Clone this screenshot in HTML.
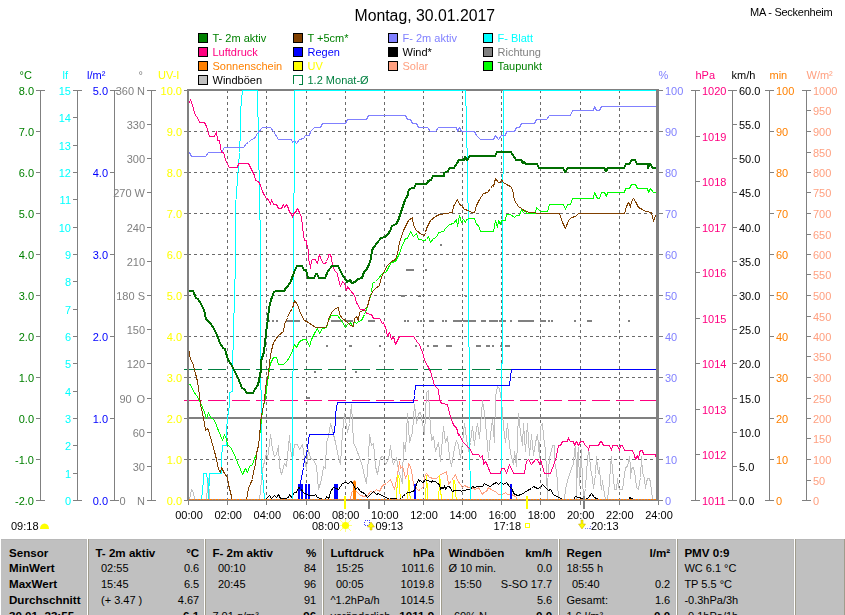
<!DOCTYPE html>
<html><head><meta charset="utf-8"><title>Montag, 30.01.2017</title>
<style>
html,body{margin:0;padding:0;background:#fff;}
body{width:845px;height:615px;overflow:hidden;position:relative;}
svg{position:absolute;left:0;top:0;display:block;}
svg.c{will-change:transform;}
text{font-family:"Liberation Sans",Arial,sans-serif;font-size:11px;}
</style></head>
<body>
<svg class="c" width="845" height="615" viewBox="0 0 845 615">
<g shape-rendering="crispEdges">
<line x1="227.5" y1="90" x2="227.5" y2="500" stroke="#6a6a6a" stroke-width="1" stroke-dasharray="3,3"/>
<line x1="266.5" y1="90" x2="266.5" y2="500" stroke="#6a6a6a" stroke-width="1" stroke-dasharray="3,3"/>
<line x1="306.5" y1="90" x2="306.5" y2="500" stroke="#6a6a6a" stroke-width="1" stroke-dasharray="3,3"/>
<line x1="345.5" y1="90" x2="345.5" y2="500" stroke="#6a6a6a" stroke-width="1" stroke-dasharray="3,3"/>
<line x1="384.5" y1="90" x2="384.5" y2="500" stroke="#6a6a6a" stroke-width="1" stroke-dasharray="3,3"/>
<line x1="423.5" y1="90" x2="423.5" y2="500" stroke="#6a6a6a" stroke-width="1" stroke-dasharray="3,3"/>
<line x1="462.5" y1="90" x2="462.5" y2="500" stroke="#6a6a6a" stroke-width="1" stroke-dasharray="3,3"/>
<line x1="501.5" y1="90" x2="501.5" y2="500" stroke="#6a6a6a" stroke-width="1" stroke-dasharray="3,3"/>
<line x1="540.5" y1="90" x2="540.5" y2="500" stroke="#6a6a6a" stroke-width="1" stroke-dasharray="3,3"/>
<line x1="580.5" y1="90" x2="580.5" y2="500" stroke="#6a6a6a" stroke-width="1" stroke-dasharray="3,3"/>
<line x1="619.5" y1="90" x2="619.5" y2="500" stroke="#6a6a6a" stroke-width="1" stroke-dasharray="3,3"/>
<line x1="188" y1="131.5" x2="656" y2="131.5" stroke="#6a6a6a" stroke-width="1" stroke-dasharray="3,3"/>
<line x1="188" y1="172.5" x2="656" y2="172.5" stroke="#6a6a6a" stroke-width="1" stroke-dasharray="3,3"/>
<line x1="188" y1="213.5" x2="656" y2="213.5" stroke="#6a6a6a" stroke-width="1" stroke-dasharray="3,3"/>
<line x1="188" y1="254.5" x2="656" y2="254.5" stroke="#6a6a6a" stroke-width="1" stroke-dasharray="3,3"/>
<line x1="188" y1="295.5" x2="656" y2="295.5" stroke="#6a6a6a" stroke-width="1" stroke-dasharray="3,3"/>
<line x1="188" y1="336.5" x2="656" y2="336.5" stroke="#6a6a6a" stroke-width="1" stroke-dasharray="3,3"/>
<line x1="188" y1="377.5" x2="656" y2="377.5" stroke="#6a6a6a" stroke-width="1" stroke-dasharray="3,3"/>
<line x1="188" y1="459.5" x2="656" y2="459.5" stroke="#6a6a6a" stroke-width="1" stroke-dasharray="3,3"/>
<rect x="189" y="417" width="467" height="2" fill="#808080"/>
</g>
<g shape-rendering="crispEdges">
<line x1="184" y1="369.5" x2="656" y2="369.5" stroke="#008040" stroke-width="1" stroke-dasharray="18,6"/>
<line x1="184" y1="400.5" x2="656" y2="400.5" stroke="#ff0080" stroke-width="1" stroke-dasharray="18,6"/>
</g>
<g shape-rendering="crispEdges">
<rect x="267" y="320" width="3" height="2" fill="#808080"/>
<rect x="272" y="320" width="2" height="2" fill="#808080"/>
<rect x="276" y="320" width="2" height="2" fill="#808080"/>
<rect x="286" y="320" width="14" height="2" fill="#808080"/>
<rect x="331" y="320" width="12" height="2" fill="#808080"/>
<rect x="346" y="320" width="7" height="2" fill="#808080"/>
<rect x="368" y="320" width="7" height="2" fill="#808080"/>
<rect x="404" y="320" width="2" height="2" fill="#808080"/>
<rect x="407" y="320" width="2" height="2" fill="#808080"/>
<rect x="417" y="320" width="2" height="2" fill="#808080"/>
<rect x="420" y="320" width="2" height="2" fill="#808080"/>
<rect x="423" y="320" width="2" height="2" fill="#808080"/>
<rect x="429" y="320" width="5" height="2" fill="#808080"/>
<rect x="442" y="320" width="2" height="2" fill="#808080"/>
<rect x="445" y="320" width="2" height="2" fill="#808080"/>
<rect x="453" y="320" width="9" height="2" fill="#808080"/>
<rect x="463" y="320" width="13" height="2" fill="#808080"/>
<rect x="481" y="320" width="5" height="2" fill="#808080"/>
<rect x="489" y="320" width="9" height="2" fill="#808080"/>
<rect x="499" y="320" width="7" height="2" fill="#808080"/>
<rect x="510" y="320" width="2" height="2" fill="#808080"/>
<rect x="518" y="320" width="16" height="2" fill="#808080"/>
<rect x="540" y="320" width="6" height="2" fill="#808080"/>
<rect x="548" y="320" width="2" height="2" fill="#808080"/>
<rect x="551" y="320" width="2" height="2" fill="#808080"/>
<rect x="574" y="320" width="2" height="2" fill="#808080"/>
<rect x="587" y="320" width="5" height="2" fill="#808080"/>
<rect x="628" y="320" width="2" height="2" fill="#808080"/>
<rect x="338" y="295" width="3" height="2" fill="#808080"/>
<rect x="401" y="295" width="4" height="2" fill="#808080"/>
<rect x="418" y="295" width="3" height="2" fill="#808080"/>
<rect x="465" y="295" width="2" height="2" fill="#808080"/>
<rect x="406" y="269" width="8" height="2" fill="#808080"/>
<rect x="425" y="269" width="2" height="2" fill="#808080"/>
<rect x="326" y="345" width="2" height="2" fill="#808080"/>
<rect x="349" y="345" width="3" height="2" fill="#808080"/>
<rect x="379" y="345" width="2" height="2" fill="#808080"/>
<rect x="415" y="345" width="2" height="2" fill="#808080"/>
<rect x="427" y="345" width="2" height="2" fill="#808080"/>
<rect x="433" y="345" width="5" height="2" fill="#808080"/>
<rect x="446" y="345" width="6" height="2" fill="#808080"/>
<rect x="476" y="345" width="5" height="2" fill="#808080"/>
<rect x="486" y="345" width="4" height="2" fill="#808080"/>
<rect x="492" y="345" width="2" height="2" fill="#808080"/>
<rect x="500" y="345" width="2" height="2" fill="#808080"/>
<rect x="505" y="345" width="5" height="2" fill="#808080"/>
<rect x="329" y="218" width="2" height="2" fill="#808080"/>
<rect x="440" y="244" width="2" height="2" fill="#808080"/>
<rect x="314" y="371" width="2" height="2" fill="#808080"/>
<rect x="355" y="371" width="2" height="2" fill="#808080"/>
<rect x="307" y="397" width="3" height="2" fill="#808080"/>
</g>
<polyline points="189.5,499.5 190.5,494.5 191.5,489.5 193.5,492.5 194.5,499.5 206.5,499.5 207.5,486.5 208.5,478.5 209.5,499.5 259.5,499.5 260.5,490.5 262.5,469.5 264.5,461.5 266.5,452.5 267.5,458.5 269.5,443.5 270.5,434.5 272.5,449.5 274.5,456.5 276.5,454.5 278.5,445.5 279.5,466.5 281.5,474.5 284.5,463.5 286.5,466.5 289.5,435.5 290.5,449.5 292.5,459.5 294.5,444.5 297.5,444.5 299.5,449.5 302.5,444.5 304.5,458.5 306.5,469.5 308.5,449.5 310.5,458.5 313.5,459.5 316.5,466.5 318.5,489.5 321.5,479.5 323.5,466.5 325.5,468.5 326.5,442.5 328.5,436.5 330.5,423.5 332.5,430.5 335.5,442.5 338.5,457.5 340.5,464.5 342.5,432.5 344.5,413.5 345.5,419.5 347.5,432.5 349.5,423.5 351.5,404.5 353.5,442.5 356.5,449.5 359.5,457.5 362.5,466.5 364.5,476.5 366.5,483.5 368.5,457.5 369.5,434.5 371.5,445.5 373.5,443.5 375.5,466.5 377.5,474.5 380.5,457.5 382.5,456.5 383.5,457.5 385.5,464.5 388.5,459.5 390.5,445.5 392.5,461.5 393.5,464.5 396.5,457.5 398.5,470.5 400.5,476.5 402.5,483.5 403.5,442.5 405.5,451.5 407.5,413.5 409.5,442.5 410.5,438.5 412.5,432.5 414.5,404.5 416.5,423.5 418.5,413.5 420.5,412.5 422.5,423.5 424.5,434.5 426.5,392.5 428.5,390.5 429.5,413.5 431.5,440.5 433.5,436.5 435.5,451.5 438.5,442.5 440.5,461.5 443.5,426.5 445.5,442.5 447.5,436.5 449.5,457.5 451.5,466.5 454.5,447.5 456.5,440.5 458.5,445.5 460.5,457.5 462.5,442.5 464.5,423.5 466.5,438.5 468.5,451.5 470.5,442.5 472.5,426.5 474.5,445.5 475.5,434.5 477.5,423.5 479.5,438.5 482.5,400.5 484.5,413.5 486.5,434.5 488.5,457.5 490.5,434.5 492.5,419.5 494.5,442.5 495.5,396.5 497.5,386.5 499.5,388.5 501.5,400.5 503.5,426.5 505.5,442.5 507.5,423.5 509.5,445.5 511.5,457.5 513.5,464.5 514.5,451.5 516.5,466.5 518.5,413.5 520.5,432.5 522.5,445.5 523.5,423.5 525.5,451.5 527.5,423.5 529.5,455.5 531.5,434.5 533.5,455.5 535.5,442.5 537.5,434.5 539.5,457.5 540.5,426.5 542.5,423.5 543.5,436.5 545.5,450.5 546.5,471.5 547.5,499.5 547.5,484.5 549.5,457.5 551.5,450.5 552.5,445.5 554.5,445.5 554.5,461.5 556.5,471.5 557.5,482.5 558.5,499.5 564.5,499.5 565.5,488.5 568.5,477.5 571.5,468.5 573.5,463.5 574.5,450.5 575.5,446.5 576.5,471.5 576.5,499.5 577.5,457.5 578.5,447.5 579.5,485.5 581.5,449.5 581.5,457.5 582.5,478.5 583.5,499.5 585.5,488.5 586.5,471.5 588.5,449.5 589.5,454.5 590.5,468.5 592.5,478.5 593.5,488.5 595.5,474.5 596.5,456.5 597.5,466.5 598.5,473.5 599.5,467.5 600.5,482.5 601.5,489.5 602.5,480.5 603.5,488.5 605.5,499.5 607.5,499.5 609.5,482.5 610.5,465.5 611.5,456.5 612.5,470.5 613.5,477.5 614.5,489.5 616.5,489.5 617.5,478.5 618.5,486.5 619.5,489.5 622.5,489.5 624.5,474.5 625.5,467.5 627.5,466.5 629.5,456.5 630.5,466.5 630.5,478.5 631.5,468.5 633.5,467.5 635.5,477.5 636.5,487.5 638.5,489.5 640.5,477.5 641.5,456.5 642.5,472.5 644.5,478.5 645.5,488.5 646.5,482.5 647.5,478.5 649.5,478.5 650.5,482.5 652.5,499.5" fill="none" stroke="#c0c0c0" stroke-width="1" stroke-linejoin="round" shape-rendering="crispEdges"/>
<polyline points="350.5,499.5 351.5,492.5 354.5,490.5 357.5,492.5 360.5,495.5 364.5,496.5 367.5,495.5 370.5,491.5 373.5,492.5 376.5,489.5 379.5,491.5 382.5,485.5 386.5,483.5 390.5,479.5 394.5,489.5 396.5,479.5 397.5,474.5 399.5,461.5 400.5,468.5 402.5,466.5 403.5,469.5 405.5,478.5 407.5,473.5 408.5,463.5 410.5,466.5 412.5,476.5 413.5,485.5 414.5,484.5 416.5,488.5 418.5,490.5 420.5,489.5 423.5,486.5 424.5,476.5 426.5,473.5 429.5,477.5 433.5,478.5 436.5,478.5 438.5,476.5 440.5,474.5 443.5,473.5 446.5,471.5 448.5,484.5 451.5,480.5 455.5,474.5 457.5,480.5 460.5,484.5 462.5,487.5 464.5,485.5 468.5,487.5 471.5,487.5 475.5,489.5 478.5,487.5 482.5,494.5 483.5,492.5 486.5,491.5 488.5,487.5 492.5,490.5 495.5,491.5 498.5,494.5 502.5,494.5 505.5,492.5 507.5,494.5 511.5,494.5 515.5,496.5 517.5,499.5 522.5,499.5" fill="none" stroke="#ffa080" stroke-width="1" stroke-linejoin="round" shape-rendering="crispEdges"/>
<path d="M353 499 V482 Q354.5 478.5 356 482 V499 Z" fill="#ff8000"/>
<polyline points="396.3,499 397.8,475 398.8,475 400.3,499" fill="none" stroke="#ffff00" stroke-width="1" shape-rendering="crispEdges"/>
<polyline points="407.5,499 409.0,475 408.7,475 410.2,499" fill="none" stroke="#ffff00" stroke-width="1" shape-rendering="crispEdges"/>
<polyline points="425.3,499 426.8,475 426.5,475 428.0,499" fill="none" stroke="#ffff00" stroke-width="1" shape-rendering="crispEdges"/>
<polyline points="438.5,499 440.0,475.3 439.8,475.3 441.3,499" fill="none" stroke="#ffff00" stroke-width="1" shape-rendering="crispEdges"/>
<polyline points="452.5,499 454.0,480 454.7,480 456.2,499" fill="none" stroke="#ffff00" stroke-width="1" shape-rendering="crispEdges"/>
<g shape-rendering="crispEdges">
<rect x="298" y="484" width="2" height="15" fill="#0000ff"/>
<rect x="301" y="484" width="2" height="15" fill="#0000ff"/>
<rect x="305" y="484" width="2" height="15" fill="#0000ff"/>
<rect x="308" y="484" width="2" height="15" fill="#0000ff"/>
<rect x="334" y="484" width="4" height="15" fill="#0000ff"/>
<rect x="414" y="484" width="2" height="15" fill="#0000ff"/>
<rect x="510" y="484" width="2" height="15" fill="#0000ff"/>
</g>
<polyline points="260.5,499.5 265.5,499.5 269.5,495.5 271.5,498.5 274.5,495.5 276.5,497.5 278.5,494.5 280.5,498.5 285.5,498.5 288.5,497.5 289.5,494.5 291.5,497.5 294.5,492.5 296.5,492.5 298.5,487.5 300.5,488.5 303.5,492.5 306.5,494.5 309.5,495.5 314.5,495.5 315.5,494.5 317.5,497.5 320.5,498.5 323.5,499.5 325.5,499.5 326.5,496.5 328.5,498.5 329.5,496.5 330.5,491.5 333.5,487.5 336.5,488.5 338.5,489.5 342.5,483.5 345.5,482.5 348.5,483.5 350.5,481.5 352.5,482.5 355.5,489.5 357.5,487.5 360.5,491.5 362.5,492.5 364.5,493.5 367.5,497.5 370.5,494.5 373.5,491.5 376.5,494.5 378.5,493.5 381.5,495.5 384.5,496.5 389.5,499.5 390.5,498.5 395.5,498.5 398.5,499.5 401.5,498.5 403.5,495.5 405.5,494.5 407.5,492.5 409.5,492.5 412.5,491.5 414.5,490.5 416.5,484.5 418.5,479.5 419.5,481.5 420.5,480.5 422.5,482.5 423.5,482.5 424.5,480.5 425.5,479.5 426.5,480.5 428.5,480.5 431.5,482.5 432.5,480.5 433.5,481.5 435.5,481.5 437.5,483.5 439.5,484.5 440.5,489.5 441.5,487.5 443.5,488.5 444.5,485.5 445.5,489.5 447.5,486.5 449.5,486.5 450.5,488.5 452.5,491.5 454.5,490.5 456.5,490.5 460.5,490.5 461.5,491.5 462.5,490.5 470.5,489.5 472.5,486.5 474.5,487.5 477.5,486.5 482.5,486.5 484.5,483.5 487.5,485.5 490.5,486.5 492.5,484.5 496.5,482.5 498.5,484.5 500.5,482.5 503.5,484.5 506.5,482.5 509.5,486.5 512.5,489.5 513.5,493.5 517.5,495.5 521.5,494.5 524.5,492.5 527.5,490.5 531.5,488.5 533.5,486.5 537.5,488.5 540.5,487.5 542.5,484.5 545.5,487.5 548.5,490.5 550.5,489.5 553.5,494.5 558.5,497.5 563.5,499.5 573.5,499.5 575.5,496.5 578.5,497.5 582.5,498.5 585.5,499.5 588.5,497.5 591.5,493.5 594.5,497.5 598.5,499.5 629.5,499.5 629.5,497.5 631.5,498.5 634.5,499.5 656.5,499.5" fill="none" stroke="#000000" stroke-width="1" stroke-linejoin="round" shape-rendering="crispEdges"/>
<polyline points="189.5,499.5 201.5,499.5 203.5,480.5 203.5,473.5 206.5,473.5 208.5,485.5 208.5,499.5 209.5,473.5 221.5,473.5 221.5,459.5 222.5,445.5 226.5,445.5 226.5,430.5 227.5,418.5 229.5,404.5 229.5,392.5 232.5,391.5 232.5,370.5 233.5,330.5 235.5,262.5 235.5,213.5 236.5,186.5 237.5,185.5 237.5,178.5 238.5,165.5 239.5,152.5 240.5,130.5 240.5,111.5 241.5,100.5 242.5,90.5 257.5,90.5 257.5,103.5 258.5,130.5 258.5,160.5 259.5,178.5 259.5,219.5 260.5,220.5 260.5,264.5 260.5,346.5 261.5,430.5 261.5,473.5 262.5,473.5 263.5,485.5 264.5,499.5 292.5,499.5 292.5,436.5 292.5,397.5 293.5,346.5 293.5,193.5 294.5,192.5 294.5,90.5 465.5,90.5" fill="none" stroke="#00ffff" stroke-width="1" stroke-linejoin="round" shape-rendering="crispEdges"/>
<polyline points="465.5,90.5 466.5,120.5 467.5,174.5 468.5,230.5 468.5,300.5 469.5,390.5 469.5,440.5 470.5,499.5 501.5,499.5 501.5,430.5 502.5,300.5 502.5,220.5 503.5,130.5 503.5,90.5 656.5,90.5" fill="none" stroke="#00ffff" stroke-width="1" stroke-linejoin="round" shape-rendering="crispEdges"/>
<polyline points="299.5,499.5 300.5,482.5 302.5,472.5 303.5,467.5 304.5,458.5 306.5,455.5 307.5,449.5 308.5,439.5 309.5,434.5 333.5,434.5 334.5,430.5 335.5,422.5 335.5,415.5 336.5,406.5 337.5,403.5 337.5,402.5 413.5,402.5 414.5,395.5 415.5,385.5 509.5,385.5 510.5,376.5 511.5,369.5 656.5,369.5" fill="none" stroke="#0000ff" stroke-width="1" stroke-linejoin="round" shape-rendering="crispEdges"/>
<polyline points="188.5,152.5 189.5,152.5 191.5,156.5 205.5,156.5 208.5,152.5 221.5,152.5 224.5,147.5 243.5,147.5 246.5,143.5 248.5,142.5 251.5,139.5 254.5,138.5 257.5,133.5 262.5,127.5 270.5,127.5 273.5,131.5 278.5,139.5 291.5,139.5 292.5,142.5 294.5,140.5 296.5,143.5 299.5,139.5 303.5,138.5 305.5,135.5 309.5,135.5 310.5,131.5 314.5,127.5 320.5,127.5 322.5,123.5 345.5,123.5 347.5,119.5 366.5,119.5 368.5,115.5 405.5,115.5 407.5,119.5 410.5,119.5 412.5,123.5 416.5,123.5 418.5,127.5 427.5,127.5 430.5,131.5 435.5,131.5 438.5,127.5 456.5,127.5 457.5,131.5 459.5,127.5 461.5,131.5 474.5,131.5 476.5,135.5 480.5,139.5 493.5,139.5 495.5,135.5 498.5,139.5 501.5,135.5 505.5,135.5 506.5,131.5 514.5,131.5 516.5,127.5 519.5,127.5 521.5,123.5 534.5,123.5 536.5,119.5 546.5,119.5 549.5,115.5 570.5,115.5 572.5,110.5 593.5,110.5 594.5,106.5 596.5,110.5 599.5,110.5 601.5,106.5 655.5,106.5" fill="none" stroke="#8080ff" stroke-width="1" stroke-linejoin="round" shape-rendering="crispEdges"/>
<polyline points="188.5,104.5 190.5,99.5 192.5,105.5 195.5,115.5 197.5,117.5 199.5,122.5 204.5,122.5 206.5,126.5 209.5,136.5 214.5,136.5 216.5,131.5 217.5,140.5 219.5,140.5 221.5,152.5 223.5,152.5 226.5,162.5 229.5,167.5 237.5,167.5 238.5,163.5 248.5,163.5 254.5,175.5 255.5,180.5 258.5,181.5 260.5,185.5 262.5,191.5 264.5,195.5 266.5,198.5 268.5,199.5 270.5,204.5 271.5,199.5 273.5,204.5 276.5,204.5 278.5,208.5 281.5,208.5 283.5,204.5 284.5,207.5 286.5,204.5 288.5,208.5 289.5,212.5 291.5,213.5 292.5,217.5 293.5,213.5 295.5,212.5 297.5,208.5 299.5,212.5 301.5,217.5 303.5,235.5 304.5,240.5 306.5,240.5 306.5,245.5 307.5,245.5 308.5,252.5 308.5,260.5 309.5,261.5 310.5,268.5 311.5,260.5 312.5,259.5 315.5,259.5 316.5,262.5 317.5,263.5 318.5,258.5 319.5,254.5 320.5,258.5 321.5,259.5 322.5,262.5 323.5,263.5 325.5,263.5 326.5,261.5 328.5,256.5 328.5,254.5 330.5,254.5 331.5,258.5 332.5,265.5 333.5,268.5 335.5,271.5 337.5,273.5 338.5,279.5 340.5,286.5 342.5,281.5 344.5,283.5 346.5,290.5 347.5,286.5 350.5,290.5 354.5,295.5 356.5,302.5 360.5,309.5 364.5,309.5 366.5,313.5 371.5,314.5 373.5,318.5 379.5,318.5 382.5,323.5 383.5,322.5 386.5,330.5 387.5,336.5 389.5,332.5 391.5,339.5 393.5,336.5 395.5,344.5 399.5,336.5 413.5,336.5 417.5,342.5 419.5,344.5 421.5,350.5 422.5,351.5 424.5,360.5 427.5,365.5 430.5,371.5 432.5,378.5 434.5,385.5 436.5,387.5 438.5,389.5 439.5,399.5 441.5,403.5 447.5,404.5 449.5,413.5 452.5,422.5 454.5,426.5 456.5,427.5 458.5,435.5 459.5,434.5 462.5,441.5 470.5,449.5 472.5,454.5 478.5,454.5 480.5,457.5 482.5,455.5 483.5,464.5 485.5,461.5 487.5,465.5 490.5,473.5 500.5,473.5 501.5,468.5 504.5,468.5 506.5,473.5 509.5,464.5 513.5,473.5 522.5,473.5 524.5,473.5 526.5,461.5 528.5,459.5 531.5,464.5 535.5,459.5 537.5,459.5 539.5,464.5 540.5,459.5 542.5,466.5 544.5,473.5 545.5,473.5 550.5,473.5 551.5,470.5 553.5,465.5 555.5,459.5 556.5,456.5 557.5,450.5 558.5,445.5 560.5,445.5 562.5,441.5 567.5,441.5 568.5,437.5 569.5,440.5 570.5,441.5 573.5,441.5 574.5,445.5 576.5,441.5 578.5,445.5 580.5,441.5 583.5,441.5 584.5,444.5 588.5,448.5 588.5,450.5 589.5,445.5 598.5,445.5 600.5,441.5 601.5,441.5 603.5,445.5 609.5,445.5 611.5,450.5 612.5,445.5 617.5,445.5 619.5,450.5 620.5,445.5 622.5,445.5 624.5,450.5 632.5,450.5 634.5,455.5 635.5,459.5 637.5,455.5 638.5,459.5 639.5,452.5 640.5,450.5 642.5,450.5 643.5,454.5 655.5,454.5 656.5,458.5" fill="none" stroke="#ff0080" stroke-width="1" stroke-linejoin="round" shape-rendering="crispEdges"/>
<polyline points="188.5,384.5 190.5,384.5 193.5,391.5 196.5,395.5 199.5,400.5 202.5,407.5 204.5,412.5 206.5,418.5 208.5,412.5 210.5,417.5 213.5,419.5 215.5,422.5 217.5,428.5 218.5,430.5 220.5,435.5 222.5,440.5 224.5,434.5 226.5,439.5 227.5,444.5 230.5,447.5 233.5,452.5 237.5,462.5 240.5,469.5 242.5,474.5 245.5,468.5 247.5,472.5 249.5,466.5 252.5,464.5 253.5,461.5 256.5,453.5 258.5,445.5 259.5,437.5 262.5,410.5 265.5,397.5 268.5,375.5 270.5,363.5 273.5,357.5 276.5,357.5 278.5,364.5 283.5,364.5 287.5,360.5 291.5,353.5 294.5,344.5 296.5,347.5 299.5,341.5 303.5,339.5 306.5,339.5 309.5,346.5 311.5,339.5 315.5,331.5 317.5,328.5 319.5,333.5 322.5,328.5 326.5,327.5 328.5,320.5 331.5,315.5 337.5,315.5 340.5,319.5 342.5,322.5 345.5,327.5 347.5,324.5 350.5,322.5 352.5,326.5 354.5,321.5 356.5,323.5 358.5,321.5 361.5,320.5 364.5,314.5 366.5,309.5 369.5,299.5 371.5,292.5 372.5,283.5 375.5,281.5 378.5,278.5 381.5,274.5 386.5,271.5 388.5,267.5 391.5,262.5 395.5,261.5 399.5,253.5 401.5,247.5 405.5,238.5 407.5,238.5 410.5,231.5 413.5,236.5 416.5,233.5 418.5,239.5 424.5,240.5 426.5,239.5 428.5,236.5 430.5,242.5 433.5,238.5 436.5,237.5 438.5,232.5 443.5,231.5 445.5,228.5 449.5,224.5 453.5,223.5 456.5,219.5 457.5,226.5 459.5,215.5 461.5,222.5 463.5,219.5 465.5,222.5 466.5,219.5 469.5,218.5 474.5,218.5 476.5,224.5 478.5,225.5 480.5,231.5 493.5,231.5 495.5,220.5 497.5,227.5 498.5,220.5 500.5,224.5 501.5,220.5 505.5,220.5 506.5,214.5 510.5,214.5 514.5,217.5 516.5,215.5 519.5,215.5 521.5,209.5 523.5,212.5 525.5,210.5 526.5,213.5 535.5,213.5 536.5,207.5 539.5,210.5 540.5,211.5 547.5,211.5 549.5,204.5 563.5,204.5 565.5,209.5 567.5,204.5 570.5,204.5 572.5,198.5 593.5,198.5 594.5,192.5 597.5,198.5 599.5,198.5 601.5,192.5 604.5,192.5 606.5,196.5 607.5,192.5 624.5,192.5 625.5,188.5 629.5,188.5 631.5,184.5 635.5,184.5 637.5,188.5 647.5,188.5 648.5,192.5 650.5,188.5 653.5,192.5 655.5,192.5" fill="none" stroke="#00ff00" stroke-width="1" stroke-linejoin="round" shape-rendering="crispEdges"/>
<polyline points="188.5,347.5 190.5,359.5 192.5,362.5 195.5,373.5 197.5,381.5 199.5,395.5 200.5,404.5 202.5,413.5 204.5,423.5 205.5,430.5 207.5,428.5 208.5,430.5 210.5,437.5 214.5,451.5 216.5,459.5 218.5,469.5 220.5,472.5 221.5,467.5 224.5,473.5 227.5,477.5 228.5,484.5 231.5,496.5 231.5,499.5 246.5,499.5 248.5,488.5 250.5,483.5 252.5,479.5 253.5,471.5 255.5,464.5 256.5,453.5 258.5,445.5 259.5,437.5 260.5,422.5 262.5,410.5 264.5,400.5 265.5,387.5 268.5,373.5 269.5,362.5 271.5,350.5 273.5,342.5 278.5,335.5 283.5,331.5 284.5,324.5 287.5,317.5 289.5,312.5 292.5,308.5 294.5,300.5 297.5,304.5 299.5,310.5 302.5,317.5 304.5,320.5 308.5,322.5 315.5,327.5 325.5,327.5 327.5,324.5 328.5,319.5 331.5,312.5 335.5,308.5 338.5,307.5 339.5,314.5 342.5,318.5 347.5,322.5 350.5,325.5 353.5,326.5 354.5,318.5 356.5,316.5 358.5,320.5 359.5,312.5 364.5,309.5 367.5,306.5 369.5,298.5 372.5,291.5 375.5,288.5 379.5,285.5 381.5,276.5 383.5,273.5 386.5,266.5 391.5,261.5 395.5,259.5 397.5,253.5 399.5,242.5 401.5,236.5 403.5,230.5 406.5,224.5 408.5,220.5 412.5,217.5 413.5,225.5 416.5,230.5 421.5,234.5 424.5,235.5 425.5,232.5 426.5,228.5 430.5,220.5 435.5,216.5 439.5,214.5 446.5,213.5 452.5,212.5 453.5,206.5 457.5,199.5 459.5,204.5 461.5,205.5 464.5,209.5 468.5,210.5 471.5,212.5 474.5,212.5 476.5,205.5 479.5,199.5 483.5,193.5 487.5,192.5 490.5,188.5 492.5,185.5 493.5,186.5 495.5,178.5 498.5,182.5 500.5,182.5 501.5,179.5 503.5,182.5 506.5,184.5 510.5,186.5 512.5,189.5 514.5,200.5 518.5,206.5 521.5,208.5 525.5,211.5 530.5,212.5 535.5,212.5 536.5,213.5 559.5,213.5 562.5,222.5 565.5,228.5 568.5,220.5 571.5,217.5 575.5,216.5 578.5,213.5 585.5,213.5 624.5,213.5 626.5,206.5 628.5,202.5 629.5,204.5 630.5,207.5 631.5,201.5 633.5,198.5 635.5,201.5 638.5,207.5 642.5,209.5 645.5,211.5 651.5,212.5 653.5,221.5 655.5,215.5" fill="none" stroke="#804000" stroke-width="1" stroke-linejoin="round" shape-rendering="crispEdges"/>
<polyline points="188.0,291.0 193.0,291.0 196.0,298.0 198.0,299.0 201.0,304.0 204.0,310.0 206.0,319.0 209.0,322.0 211.0,324.0 214.0,329.0 217.0,335.0 220.0,343.0 223.0,348.0 225.0,349.0 228.0,360.0 231.0,364.0 234.0,370.0 238.0,378.0 242.0,388.0 244.0,389.0 247.0,393.0 253.0,393.0 255.0,389.0 258.0,385.0 259.0,380.0 261.0,370.0 261.0,361.0 264.0,352.0 266.0,333.0 268.0,318.0 269.0,308.0 271.0,300.0 274.0,292.0 276.0,291.0 284.0,291.0 286.0,288.0 288.0,286.0 291.0,281.0 293.0,275.0 295.0,270.0 297.0,266.0 302.0,266.0 304.0,270.0 306.0,270.0 308.0,278.0 314.0,278.0 316.0,274.0 317.0,274.0 319.0,278.0 325.0,278.0 328.0,271.0 332.0,266.0 338.0,266.0 342.0,274.0 347.0,282.0 350.0,280.0 352.0,283.0 355.0,282.0 358.0,279.0 362.0,278.0 364.0,272.0 366.0,270.0 368.0,267.0 371.0,259.0 372.0,250.0 374.0,247.0 377.0,243.0 381.0,238.0 385.0,237.0 388.0,234.0 390.0,231.0 392.0,226.0 396.0,224.0 398.0,221.0 400.0,215.0 402.0,209.0 405.0,200.0 406.0,198.0 408.0,195.0 408.0,192.0 409.0,190.0 410.0,189.0 412.0,188.0 414.0,188.0 415.0,186.0 416.0,184.0 426.0,184.0 428.0,182.0 428.0,181.0 431.0,180.0 432.0,178.0 433.0,176.0 435.0,176.0 444.0,176.0 444.0,173.0 446.0,172.0 448.0,171.0 449.0,169.0 450.0,168.0 454.0,168.0 459.0,160.0 464.0,160.0 465.0,157.0 467.0,160.0 470.0,156.0 495.0,156.0 497.0,152.0 511.0,152.0 516.0,160.0 521.0,160.0 523.0,163.0 524.0,162.0 526.0,164.0 537.0,164.0 539.0,168.0 563.0,168.0 565.0,172.0 568.0,168.0 604.0,168.0 606.0,171.0 608.0,168.0 624.0,168.0 626.0,164.0 629.0,164.0 632.0,160.0 635.0,160.0 637.0,164.0 648.0,164.0 648.0,168.0 650.0,164.0 653.0,168.0 656.0,168.0" fill="none" stroke="#006e00" stroke-width="2" stroke-linejoin="round" shape-rendering="crispEdges"/>
<g shape-rendering="crispEdges">
<rect x="187" y="89" width="2" height="412" fill="#808080"/>
<rect x="189" y="89" width="467" height="2" fill="#808080"/>
<rect x="656" y="89" width="3" height="412" fill="#808080"/>
<rect x="184" y="500" width="478" height="1" fill="#808080"/>
<rect x="188" y="501" width="1" height="4" fill="#808080"/>
<rect x="227" y="501" width="1" height="4" fill="#808080"/>
<rect x="266" y="501" width="1" height="4" fill="#808080"/>
<rect x="306" y="501" width="1" height="4" fill="#808080"/>
<rect x="345" y="501" width="1" height="4" fill="#808080"/>
<rect x="384" y="501" width="1" height="4" fill="#808080"/>
<rect x="423" y="501" width="1" height="4" fill="#808080"/>
<rect x="462" y="501" width="1" height="4" fill="#808080"/>
<rect x="501" y="501" width="1" height="4" fill="#808080"/>
<rect x="540" y="501" width="1" height="4" fill="#808080"/>
<rect x="580" y="501" width="1" height="4" fill="#808080"/>
<rect x="619" y="501" width="1" height="4" fill="#808080"/>
<rect x="658" y="501" width="1" height="4" fill="#808080"/>
</g>
<line x1="189" y1="499.5" x2="656" y2="499.5" stroke="#8a8ab8" stroke-width="1" shape-rendering="crispEdges"/>
<line x1="189" y1="499.5" x2="656" y2="499.5" stroke="#ff8000" stroke-width="1" stroke-dasharray="2,1" shape-rendering="crispEdges"/>
<g shape-rendering="crispEdges">
<rect x="242" y="90" width="16" height="1" fill="#00ffff"/>
<rect x="294" y="90" width="172" height="1" fill="#00ffff"/>
<rect x="503" y="90" width="153" height="1" fill="#00ffff"/>
</g>
<g shape-rendering="crispEdges">
<rect x="40" y="90" width="1" height="411" fill="#808080"/>
<rect x="36" y="90" width="9" height="1" fill="#808080"/>
<rect x="36" y="500" width="9" height="1" fill="#808080"/>
<rect x="36" y="131" width="4" height="1" fill="#808080"/>
<rect x="36" y="172" width="4" height="1" fill="#808080"/>
<rect x="36" y="213" width="4" height="1" fill="#808080"/>
<rect x="36" y="254" width="4" height="1" fill="#808080"/>
<rect x="36" y="295" width="4" height="1" fill="#808080"/>
<rect x="36" y="336" width="4" height="1" fill="#808080"/>
<rect x="36" y="377" width="4" height="1" fill="#808080"/>
<rect x="36" y="418" width="4" height="1" fill="#808080"/>
<rect x="36" y="459" width="4" height="1" fill="#808080"/>
</g>
<text x="34" y="94.5" fill="#008000" text-anchor="end">8.0</text>
<text x="34" y="135.5" fill="#008000" text-anchor="end">7.0</text>
<text x="34" y="176.5" fill="#008000" text-anchor="end">6.0</text>
<text x="34" y="217.5" fill="#008000" text-anchor="end">5.0</text>
<text x="34" y="258.5" fill="#008000" text-anchor="end">4.0</text>
<text x="34" y="299.5" fill="#008000" text-anchor="end">3.0</text>
<text x="34" y="340.5" fill="#008000" text-anchor="end">2.0</text>
<text x="34" y="381.5" fill="#008000" text-anchor="end">1.0</text>
<text x="34" y="422.5" fill="#008000" text-anchor="end">0.0</text>
<text x="34" y="463.5" fill="#008000" text-anchor="end">-1.0</text>
<text x="34" y="504.5" fill="#008000" text-anchor="end">-2.0</text>
<g shape-rendering="crispEdges">
<rect x="77" y="90" width="1" height="411" fill="#808080"/>
<rect x="73" y="90" width="9" height="1" fill="#808080"/>
<rect x="73" y="500" width="9" height="1" fill="#808080"/>
<rect x="73" y="117" width="4" height="1" fill="#808080"/>
<rect x="73" y="145" width="4" height="1" fill="#808080"/>
<rect x="73" y="172" width="4" height="1" fill="#808080"/>
<rect x="73" y="199" width="4" height="1" fill="#808080"/>
<rect x="73" y="227" width="4" height="1" fill="#808080"/>
<rect x="73" y="254" width="4" height="1" fill="#808080"/>
<rect x="73" y="281" width="4" height="1" fill="#808080"/>
<rect x="73" y="309" width="4" height="1" fill="#808080"/>
<rect x="73" y="336" width="4" height="1" fill="#808080"/>
<rect x="73" y="363" width="4" height="1" fill="#808080"/>
<rect x="73" y="391" width="4" height="1" fill="#808080"/>
<rect x="73" y="418" width="4" height="1" fill="#808080"/>
<rect x="73" y="445" width="4" height="1" fill="#808080"/>
<rect x="73" y="473" width="4" height="1" fill="#808080"/>
</g>
<text x="71" y="94.5" fill="#00ffff" text-anchor="end">15</text>
<text x="71" y="121.5" fill="#00ffff" text-anchor="end">14</text>
<text x="71" y="149.5" fill="#00ffff" text-anchor="end">13</text>
<text x="71" y="176.5" fill="#00ffff" text-anchor="end">12</text>
<text x="71" y="203.5" fill="#00ffff" text-anchor="end">11</text>
<text x="71" y="231.5" fill="#00ffff" text-anchor="end">10</text>
<text x="71" y="258.5" fill="#00ffff" text-anchor="end">9</text>
<text x="71" y="285.5" fill="#00ffff" text-anchor="end">8</text>
<text x="71" y="313.5" fill="#00ffff" text-anchor="end">7</text>
<text x="71" y="340.5" fill="#00ffff" text-anchor="end">6</text>
<text x="71" y="367.5" fill="#00ffff" text-anchor="end">5</text>
<text x="71" y="395.5" fill="#00ffff" text-anchor="end">4</text>
<text x="71" y="422.5" fill="#00ffff" text-anchor="end">3</text>
<text x="71" y="449.5" fill="#00ffff" text-anchor="end">2</text>
<text x="71" y="477.5" fill="#00ffff" text-anchor="end">1</text>
<text x="71" y="504.5" fill="#00ffff" text-anchor="end">0</text>
<g shape-rendering="crispEdges">
<rect x="114" y="90" width="1" height="411" fill="#808080"/>
<rect x="110" y="90" width="9" height="1" fill="#808080"/>
<rect x="110" y="500" width="9" height="1" fill="#808080"/>
<rect x="110" y="172" width="4" height="1" fill="#808080"/>
<rect x="110" y="254" width="4" height="1" fill="#808080"/>
<rect x="110" y="336" width="4" height="1" fill="#808080"/>
<rect x="110" y="418" width="4" height="1" fill="#808080"/>
</g>
<text x="108" y="94.5" fill="#0000ff" text-anchor="end">5.0</text>
<text x="108" y="176.5" fill="#0000ff" text-anchor="end">4.0</text>
<text x="108" y="258.5" fill="#0000ff" text-anchor="end">3.0</text>
<text x="108" y="340.5" fill="#0000ff" text-anchor="end">2.0</text>
<text x="108" y="422.5" fill="#0000ff" text-anchor="end">1.0</text>
<text x="108" y="504.5" fill="#0000ff" text-anchor="end">0.0</text>
<g shape-rendering="crispEdges">
<rect x="151" y="90" width="1" height="411" fill="#808080"/>
<rect x="147" y="90" width="9" height="1" fill="#808080"/>
<rect x="147" y="500" width="9" height="1" fill="#808080"/>
<rect x="147" y="124" width="4" height="1" fill="#808080"/>
<rect x="147" y="158" width="4" height="1" fill="#808080"/>
<rect x="147" y="192" width="4" height="1" fill="#808080"/>
<rect x="147" y="227" width="4" height="1" fill="#808080"/>
<rect x="147" y="261" width="4" height="1" fill="#808080"/>
<rect x="147" y="295" width="4" height="1" fill="#808080"/>
<rect x="147" y="329" width="4" height="1" fill="#808080"/>
<rect x="147" y="363" width="4" height="1" fill="#808080"/>
<rect x="147" y="398" width="4" height="1" fill="#808080"/>
<rect x="147" y="432" width="4" height="1" fill="#808080"/>
<rect x="147" y="466" width="4" height="1" fill="#808080"/>
</g>
<text x="145" y="94.5" fill="#808080" text-anchor="end">360 N</text>
<text x="145" y="128.5" fill="#808080" text-anchor="end">330</text>
<text x="145" y="162.5" fill="#808080" text-anchor="end">300</text>
<text x="145" y="196.5" fill="#808080" text-anchor="end">270 W</text>
<text x="145" y="231.5" fill="#808080" text-anchor="end">240</text>
<text x="145" y="265.5" fill="#808080" text-anchor="end">210</text>
<text x="145" y="299.5" fill="#808080" text-anchor="end">180 S</text>
<text x="145" y="333.5" fill="#808080" text-anchor="end">150</text>
<text x="145" y="367.5" fill="#808080" text-anchor="end">120</text>
<text x="145" y="402.5" fill="#808080" text-anchor="end">O</text>
<text x="145" y="436.5" fill="#808080" text-anchor="end">60</text>
<text x="145" y="470.5" fill="#808080" text-anchor="end">30</text>
<text x="145" y="504.5" fill="#808080" text-anchor="end">N</text>
<text x="119.5" y="402.5" fill="#808080">90</text>
<text x="119.5" y="504.5" fill="#808080">0</text>
<g shape-rendering="crispEdges">
<rect x="184" y="90" width="3" height="1" fill="#808080"/>
<rect x="184" y="131" width="3" height="1" fill="#808080"/>
<rect x="184" y="172" width="3" height="1" fill="#808080"/>
<rect x="184" y="213" width="3" height="1" fill="#808080"/>
<rect x="184" y="254" width="3" height="1" fill="#808080"/>
<rect x="184" y="295" width="3" height="1" fill="#808080"/>
<rect x="184" y="336" width="3" height="1" fill="#808080"/>
<rect x="184" y="377" width="3" height="1" fill="#808080"/>
<rect x="184" y="418" width="3" height="1" fill="#808080"/>
<rect x="184" y="459" width="3" height="1" fill="#808080"/>
<rect x="184" y="500" width="3" height="1" fill="#808080"/>
</g>
<text x="182" y="94.5" fill="#ffff00" text-anchor="end">10.0</text>
<text x="182" y="135.5" fill="#ffff00" text-anchor="end">9.0</text>
<text x="182" y="176.5" fill="#ffff00" text-anchor="end">8.0</text>
<text x="182" y="217.5" fill="#ffff00" text-anchor="end">7.0</text>
<text x="182" y="258.5" fill="#ffff00" text-anchor="end">6.0</text>
<text x="182" y="299.5" fill="#ffff00" text-anchor="end">5.0</text>
<text x="182" y="340.5" fill="#ffff00" text-anchor="end">4.0</text>
<text x="182" y="381.5" fill="#ffff00" text-anchor="end">3.0</text>
<text x="182" y="422.5" fill="#ffff00" text-anchor="end">2.0</text>
<text x="182" y="463.5" fill="#ffff00" text-anchor="end">1.0</text>
<text x="182" y="504.5" fill="#ffff00" text-anchor="end">0.0</text>
<g shape-rendering="crispEdges">
<rect x="659" y="90" width="4" height="1" fill="#808080"/>
<rect x="659" y="131" width="4" height="1" fill="#808080"/>
<rect x="659" y="172" width="4" height="1" fill="#808080"/>
<rect x="659" y="213" width="4" height="1" fill="#808080"/>
<rect x="659" y="254" width="4" height="1" fill="#808080"/>
<rect x="659" y="295" width="4" height="1" fill="#808080"/>
<rect x="659" y="336" width="4" height="1" fill="#808080"/>
<rect x="659" y="377" width="4" height="1" fill="#808080"/>
<rect x="659" y="418" width="4" height="1" fill="#808080"/>
<rect x="659" y="459" width="4" height="1" fill="#808080"/>
<rect x="659" y="500" width="4" height="1" fill="#808080"/>
</g>
<text x="665" y="94.5" fill="#8080ff">100</text>
<text x="665" y="135.5" fill="#8080ff">90</text>
<text x="665" y="176.5" fill="#8080ff">80</text>
<text x="665" y="217.5" fill="#8080ff">70</text>
<text x="665" y="258.5" fill="#8080ff">60</text>
<text x="665" y="299.5" fill="#8080ff">50</text>
<text x="665" y="340.5" fill="#8080ff">40</text>
<text x="665" y="381.5" fill="#8080ff">30</text>
<text x="665" y="422.5" fill="#8080ff">20</text>
<text x="665" y="463.5" fill="#8080ff">10</text>
<text x="665" y="504.5" fill="#8080ff">0</text>
<g shape-rendering="crispEdges">
<rect x="695" y="90" width="1" height="411" fill="#808080"/>
<rect x="691" y="90" width="9" height="1" fill="#808080"/>
<rect x="691" y="500" width="9" height="1" fill="#808080"/>
<rect x="696" y="90" width="4" height="1" fill="#808080"/>
<rect x="696" y="136" width="4" height="1" fill="#808080"/>
<rect x="696" y="181" width="4" height="1" fill="#808080"/>
<rect x="696" y="227" width="4" height="1" fill="#808080"/>
<rect x="696" y="272" width="4" height="1" fill="#808080"/>
<rect x="696" y="318" width="4" height="1" fill="#808080"/>
<rect x="696" y="363" width="4" height="1" fill="#808080"/>
<rect x="696" y="409" width="4" height="1" fill="#808080"/>
<rect x="696" y="454" width="4" height="1" fill="#808080"/>
<rect x="696" y="500" width="4" height="1" fill="#808080"/>
</g>
<text x="702" y="94.5" fill="#ff0080">1020</text>
<text x="702" y="140.5" fill="#ff0080">1019</text>
<text x="702" y="185.5" fill="#ff0080">1018</text>
<text x="702" y="231.5" fill="#ff0080">1017</text>
<text x="702" y="276.5" fill="#ff0080">1016</text>
<text x="702" y="322.5" fill="#ff0080">1015</text>
<text x="702" y="367.5" fill="#ff0080">1014</text>
<text x="702" y="413.5" fill="#ff0080">1013</text>
<text x="702" y="458.5" fill="#ff0080">1012</text>
<text x="702" y="504.5" fill="#ff0080">1011</text>
<g shape-rendering="crispEdges">
<rect x="732" y="90" width="1" height="411" fill="#808080"/>
<rect x="728" y="90" width="9" height="1" fill="#808080"/>
<rect x="728" y="500" width="9" height="1" fill="#808080"/>
<rect x="733" y="90" width="4" height="1" fill="#808080"/>
<rect x="733" y="124" width="4" height="1" fill="#808080"/>
<rect x="733" y="158" width="4" height="1" fill="#808080"/>
<rect x="733" y="192" width="4" height="1" fill="#808080"/>
<rect x="733" y="227" width="4" height="1" fill="#808080"/>
<rect x="733" y="261" width="4" height="1" fill="#808080"/>
<rect x="733" y="295" width="4" height="1" fill="#808080"/>
<rect x="733" y="329" width="4" height="1" fill="#808080"/>
<rect x="733" y="363" width="4" height="1" fill="#808080"/>
<rect x="733" y="398" width="4" height="1" fill="#808080"/>
<rect x="733" y="432" width="4" height="1" fill="#808080"/>
<rect x="733" y="466" width="4" height="1" fill="#808080"/>
<rect x="733" y="500" width="4" height="1" fill="#808080"/>
</g>
<text x="739" y="94.5" fill="#000000">60.0</text>
<text x="739" y="128.5" fill="#000000">55.0</text>
<text x="739" y="162.5" fill="#000000">50.0</text>
<text x="739" y="196.5" fill="#000000">45.0</text>
<text x="739" y="231.5" fill="#000000">40.0</text>
<text x="739" y="265.5" fill="#000000">35.0</text>
<text x="739" y="299.5" fill="#000000">30.0</text>
<text x="739" y="333.5" fill="#000000">25.0</text>
<text x="739" y="367.5" fill="#000000">20.0</text>
<text x="739" y="402.5" fill="#000000">15.0</text>
<text x="739" y="436.5" fill="#000000">10.0</text>
<text x="739" y="470.5" fill="#000000">5.0</text>
<text x="739" y="504.5" fill="#000000">0.0</text>
<g shape-rendering="crispEdges">
<rect x="769" y="90" width="1" height="411" fill="#808080"/>
<rect x="765" y="90" width="9" height="1" fill="#808080"/>
<rect x="765" y="500" width="9" height="1" fill="#808080"/>
<rect x="770" y="90" width="4" height="1" fill="#808080"/>
<rect x="770" y="131" width="4" height="1" fill="#808080"/>
<rect x="770" y="172" width="4" height="1" fill="#808080"/>
<rect x="770" y="213" width="4" height="1" fill="#808080"/>
<rect x="770" y="254" width="4" height="1" fill="#808080"/>
<rect x="770" y="295" width="4" height="1" fill="#808080"/>
<rect x="770" y="336" width="4" height="1" fill="#808080"/>
<rect x="770" y="377" width="4" height="1" fill="#808080"/>
<rect x="770" y="418" width="4" height="1" fill="#808080"/>
<rect x="770" y="459" width="4" height="1" fill="#808080"/>
<rect x="770" y="500" width="4" height="1" fill="#808080"/>
</g>
<text x="776" y="94.5" fill="#ff8000">100</text>
<text x="776" y="135.5" fill="#ff8000">90</text>
<text x="776" y="176.5" fill="#ff8000">80</text>
<text x="776" y="217.5" fill="#ff8000">70</text>
<text x="776" y="258.5" fill="#ff8000">60</text>
<text x="776" y="299.5" fill="#ff8000">50</text>
<text x="776" y="340.5" fill="#ff8000">40</text>
<text x="776" y="381.5" fill="#ff8000">30</text>
<text x="776" y="422.5" fill="#ff8000">20</text>
<text x="776" y="463.5" fill="#ff8000">10</text>
<text x="776" y="504.5" fill="#ff8000">0</text>
<g shape-rendering="crispEdges">
<rect x="806" y="90" width="1" height="411" fill="#808080"/>
<rect x="802" y="90" width="9" height="1" fill="#808080"/>
<rect x="802" y="500" width="9" height="1" fill="#808080"/>
<rect x="807" y="90" width="4" height="1" fill="#808080"/>
<rect x="807" y="110" width="4" height="1" fill="#808080"/>
<rect x="807" y="131" width="4" height="1" fill="#808080"/>
<rect x="807" y="152" width="4" height="1" fill="#808080"/>
<rect x="807" y="172" width="4" height="1" fill="#808080"/>
<rect x="807" y="192" width="4" height="1" fill="#808080"/>
<rect x="807" y="213" width="4" height="1" fill="#808080"/>
<rect x="807" y="234" width="4" height="1" fill="#808080"/>
<rect x="807" y="254" width="4" height="1" fill="#808080"/>
<rect x="807" y="274" width="4" height="1" fill="#808080"/>
<rect x="807" y="295" width="4" height="1" fill="#808080"/>
<rect x="807" y="316" width="4" height="1" fill="#808080"/>
<rect x="807" y="336" width="4" height="1" fill="#808080"/>
<rect x="807" y="356" width="4" height="1" fill="#808080"/>
<rect x="807" y="377" width="4" height="1" fill="#808080"/>
<rect x="807" y="398" width="4" height="1" fill="#808080"/>
<rect x="807" y="418" width="4" height="1" fill="#808080"/>
<rect x="807" y="438" width="4" height="1" fill="#808080"/>
<rect x="807" y="459" width="4" height="1" fill="#808080"/>
<rect x="807" y="480" width="4" height="1" fill="#808080"/>
<rect x="807" y="500" width="4" height="1" fill="#808080"/>
</g>
<text x="813" y="94.5" fill="#ffa080">1000</text>
<text x="813" y="114.5" fill="#ffa080">950</text>
<text x="813" y="135.5" fill="#ffa080">900</text>
<text x="813" y="156.5" fill="#ffa080">850</text>
<text x="813" y="176.5" fill="#ffa080">800</text>
<text x="813" y="196.5" fill="#ffa080">750</text>
<text x="813" y="217.5" fill="#ffa080">700</text>
<text x="813" y="238.5" fill="#ffa080">650</text>
<text x="813" y="258.5" fill="#ffa080">600</text>
<text x="813" y="278.5" fill="#ffa080">550</text>
<text x="813" y="299.5" fill="#ffa080">500</text>
<text x="813" y="320.5" fill="#ffa080">450</text>
<text x="813" y="340.5" fill="#ffa080">400</text>
<text x="813" y="360.5" fill="#ffa080">350</text>
<text x="813" y="381.5" fill="#ffa080">300</text>
<text x="813" y="402.5" fill="#ffa080">250</text>
<text x="813" y="422.5" fill="#ffa080">200</text>
<text x="813" y="442.5" fill="#ffa080">150</text>
<text x="813" y="463.5" fill="#ffa080">100</text>
<text x="813" y="484.5" fill="#ffa080">50</text>
<text x="813" y="504.5" fill="#ffa080">0</text>
<text x="19.5" y="79" fill="#008000">°C</text>
<text x="62.5" y="79" fill="#00ffff">lf</text>
<text x="87" y="79" fill="#0000ff">l/m²</text>
<text x="138.5" y="79" fill="#808080">°</text>
<text x="158" y="79" fill="#ffff00">UV-I</text>
<text x="658.5" y="79" fill="#8080ff">%</text>
<text x="695.5" y="79" fill="#ff0080">hPa</text>
<text x="731.5" y="79" fill="#000000">km/h</text>
<text x="769.5" y="79" fill="#ff8000">min</text>
<text x="806.5" y="79" fill="#ffa080">W/m²</text>
<text x="189.0" y="518.5" fill="#000" text-anchor="middle">00:00</text>
<text x="228.2" y="518.5" fill="#000" text-anchor="middle">02:00</text>
<text x="267.3" y="518.5" fill="#000" text-anchor="middle">04:00</text>
<text x="306.5" y="518.5" fill="#000" text-anchor="middle">06:00</text>
<text x="345.7" y="518.5" fill="#000" text-anchor="middle">08:00</text>
<text x="384.8" y="518.5" fill="#000" text-anchor="middle">10:00</text>
<text x="424.0" y="518.5" fill="#000" text-anchor="middle">12:00</text>
<text x="463.2" y="518.5" fill="#000" text-anchor="middle">14:00</text>
<text x="502.3" y="518.5" fill="#000" text-anchor="middle">16:00</text>
<text x="541.5" y="518.5" fill="#000" text-anchor="middle">18:00</text>
<text x="580.7" y="518.5" fill="#000" text-anchor="middle">20:00</text>
<text x="619.8" y="518.5" fill="#000" text-anchor="middle">22:00</text>
<text x="659.0" y="518.5" fill="#000" text-anchor="middle">24:00</text>
<g shape-rendering="crispEdges">
<rect x="344" y="496" width="2" height="13" fill="#ffff00"/>
<rect x="526" y="496" width="2" height="13" fill="#ffff00"/>
<rect x="368" y="501" width="2" height="8" fill="#808080"/>
<rect x="583" y="496" width="2" height="13" fill="#808080"/>
</g>
<text x="354.5" y="20.5" fill="#000" style="font-size:15.8px">Montag, 30.01.2017</text>
<text x="750" y="16" fill="#000" letter-spacing="-0.25">MA - Seckenheim</text>
<rect x="198.5" y="33.5" width="9" height="9" fill="#008000" stroke="#000" stroke-width="1" shape-rendering="crispEdges"/>
<text x="212.5" y="42" fill="#008000">T- 2m aktiv</text>
<rect x="198.5" y="47.5" width="9" height="9" fill="#ff0080" stroke="#000" stroke-width="1" shape-rendering="crispEdges"/>
<text x="212.5" y="56" fill="#ff0080">Luftdruck</text>
<rect x="198.5" y="61.5" width="9" height="9" fill="#ff8000" stroke="#000" stroke-width="1" shape-rendering="crispEdges"/>
<text x="212.5" y="70" fill="#ff8000">Sonnenschein</text>
<rect x="198.5" y="75.5" width="9" height="9" fill="#c0c0c0" stroke="#000" stroke-width="1" shape-rendering="crispEdges"/>
<text x="212.5" y="84" fill="#000000">Windböen</text>
<rect x="293.5" y="33.5" width="9" height="9" fill="#804000" stroke="#000" stroke-width="1" shape-rendering="crispEdges"/>
<text x="307.5" y="42" fill="#008000">T +5cm*</text>
<rect x="293.5" y="47.5" width="9" height="9" fill="#0000ff" stroke="#000" stroke-width="1" shape-rendering="crispEdges"/>
<text x="307.5" y="56" fill="#0000ff">Regen</text>
<rect x="293.5" y="61.5" width="9" height="9" fill="#ffff00" stroke="#000" stroke-width="1" shape-rendering="crispEdges"/>
<text x="307.5" y="70" fill="#ffff00">UV</text>
<path d="M293.5 84V75.5H302.5V84.5H299" fill="none" stroke="#008040" stroke-width="1" shape-rendering="crispEdges"/>
<text x="307.5" y="84" fill="#008040">1.2 Monat-Ø</text>
<rect x="388.5" y="33.5" width="9" height="9" fill="#8080ff" stroke="#000" stroke-width="1" shape-rendering="crispEdges"/>
<text x="402.5" y="42" fill="#8080ff">F- 2m aktiv</text>
<rect x="388.5" y="47.5" width="9" height="9" fill="#000000" stroke="#000" stroke-width="1" shape-rendering="crispEdges"/>
<text x="402.5" y="56" fill="#000000">Wind*</text>
<rect x="388.5" y="61.5" width="9" height="9" fill="#ffa080" stroke="#000" stroke-width="1" shape-rendering="crispEdges"/>
<text x="402.5" y="70" fill="#ffa080">Solar</text>
<rect x="483.5" y="33.5" width="9" height="9" fill="#00ffff" stroke="#000" stroke-width="1" shape-rendering="crispEdges"/>
<text x="497.5" y="42" fill="#00ffff">F- Blatt</text>
<rect x="483.5" y="47.5" width="9" height="9" fill="#808080" stroke="#000" stroke-width="1" shape-rendering="crispEdges"/>
<text x="497.5" y="56" fill="#808080">Richtung</text>
<rect x="483.5" y="61.5" width="9" height="9" fill="#00ff00" stroke="#000" stroke-width="1" shape-rendering="crispEdges"/>
<text x="497.5" y="70" fill="#008000">Taupunkt</text>
<path d="M40 529 A4.5 5.5 0 0 1 49 529 Z" fill="#ffff00"/>
<text x="11" y="529.5" fill="#000">09:18</text>
<text x="312" y="529.5" fill="#000">08:00</text>
<g stroke="#ffff80" stroke-width="1"><line x1="340" y1="520" x2="351" y2="531"/><line x1="351" y1="520" x2="340" y2="531"/><line x1="345.5" y1="519" x2="345.5" y2="532"/><line x1="339" y1="525.5" x2="352" y2="525.5"/></g>
<circle cx="345.5" cy="525.5" r="3.6" fill="#ffff00"/>
<rect x="364.5" y="520.5" width="5" height="5" fill="none" stroke="#4040ff" stroke-width="1" stroke-dasharray="1,1" shape-rendering="crispEdges"/>
<path d="M371 522 L374.5 527 L372 527 L372 530 L370 530 L370 527 L367.5 527 Z" fill="#ffff00" stroke="#c0a000" stroke-width="0.5"/>
<text x="375.5" y="529.5" fill="#000">09:13</text>
<text x="493.5" y="529.5" fill="#000">17:18</text>
<rect x="525.5" y="523.5" width="4" height="4" fill="none" stroke="#ffff00" stroke-width="1" shape-rendering="crispEdges"/>
<path d="M582 529 L578.5 524 L581 524 L581 520 L583 520 L583 524 L585.5 524 Z" fill="#ffff00" stroke="#c0a000" stroke-width="0.5"/>
<path d="M584.5 528.5 H590.5 V526" fill="none" stroke="#8080ff" stroke-width="1" stroke-dasharray="1,1" shape-rendering="crispEdges"/>
<text x="591" y="529.5" fill="#000">20:13</text>
</svg>
<svg width="845" height="615" viewBox="0 0 845 615">
<g shape-rendering="crispEdges">
<rect x="1" y="539" width="844" height="76" fill="#c0c0c0"/>
<rect x="1" y="539" width="844" height="1" fill="#b8b8b8"/>
<rect x="87" y="539" width="1" height="76" fill="#ffffff"/>
<rect x="88" y="539" width="1" height="76" fill="#a09c8c"/>
<rect x="86" y="540" width="1" height="75" fill="#bababa"/>
<rect x="204" y="539" width="1" height="76" fill="#ffffff"/>
<rect x="205" y="539" width="1" height="76" fill="#a09c8c"/>
<rect x="203" y="540" width="1" height="75" fill="#bababa"/>
<rect x="322" y="539" width="1" height="76" fill="#ffffff"/>
<rect x="323" y="539" width="1" height="76" fill="#a09c8c"/>
<rect x="321" y="540" width="1" height="75" fill="#bababa"/>
<rect x="440" y="539" width="1" height="76" fill="#ffffff"/>
<rect x="441" y="539" width="1" height="76" fill="#a09c8c"/>
<rect x="439" y="540" width="1" height="75" fill="#bababa"/>
<rect x="558" y="539" width="1" height="76" fill="#ffffff"/>
<rect x="559" y="539" width="1" height="76" fill="#a09c8c"/>
<rect x="557" y="540" width="1" height="75" fill="#bababa"/>
<rect x="676" y="539" width="1" height="76" fill="#ffffff"/>
<rect x="677" y="539" width="1" height="76" fill="#a09c8c"/>
<rect x="675" y="540" width="1" height="75" fill="#bababa"/>
<rect x="794" y="539" width="1" height="76" fill="#ffffff"/>
<rect x="795" y="539" width="1" height="76" fill="#a09c8c"/>
<rect x="793" y="540" width="1" height="75" fill="#bababa"/>
<rect x="844" y="539" width="1" height="76" fill="#a09c8c"/>
</g>
<text x="9" y="556.5" font-weight="bold" style="font-size:11.6px">Sensor</text>
<text x="9" y="572" font-weight="bold" style="font-size:11.6px">MinWert</text>
<text x="9" y="588" font-weight="bold" style="font-size:11.6px">MaxWert</text>
<text x="9" y="604" font-weight="bold" style="font-size:11.6px">Durchschnitt</text>
<text x="9" y="620" font-weight="bold" style="font-size:11.6px">30.01. 23:55</text>
<text x="95.4" y="556.5" font-weight="bold" style="font-size:11.6px">T- 2m aktiv</text>
<text x="199.2" y="556.5" font-weight="bold" style="font-size:11.6px" text-anchor="end">°C</text>
<text x="101" y="572">02:55</text>
<text x="199.2" y="572" text-anchor="end">0.6</text>
<text x="101" y="588">15:45</text>
<text x="199.2" y="588" text-anchor="end">6.5</text>
<text x="101" y="604">(+ 3.47 )</text>
<text x="199.2" y="604" text-anchor="end">4.67</text>
<text x="199.2" y="620" font-weight="bold" style="font-size:11.6px" text-anchor="end">6.1</text>
<text x="212.4" y="556.5" font-weight="bold" style="font-size:11.6px">F- 2m aktiv</text>
<text x="316.2" y="556.5" font-weight="bold" style="font-size:11.6px" text-anchor="end">%</text>
<text x="218" y="572">00:10</text>
<text x="316.2" y="572" text-anchor="end">84</text>
<text x="218" y="588">20:45</text>
<text x="316.2" y="588" text-anchor="end">96</text>
<text x="316.2" y="604" text-anchor="end">91</text>
<text x="212.4" y="620">7.01 g/m³</text>
<text x="316.2" y="620" font-weight="bold" style="font-size:11.6px" text-anchor="end">96</text>
<text x="330.4" y="556.5" font-weight="bold" style="font-size:11.6px">Luftdruck</text>
<text x="434.2" y="556.5" font-weight="bold" style="font-size:11.6px" text-anchor="end">hPa</text>
<text x="336" y="572">15:25</text>
<text x="434.2" y="572" text-anchor="end">1011.6</text>
<text x="336" y="588">00:05</text>
<text x="434.2" y="588" text-anchor="end">1019.8</text>
<text x="330.4" y="604">^1.2hPa/h</text>
<text x="434.2" y="604" text-anchor="end">1014.5</text>
<text x="330.4" y="620">veränderlich</text>
<text x="434.2" y="620" font-weight="bold" style="font-size:11.6px" text-anchor="end">1011.9</text>
<text x="448.4" y="556.5" font-weight="bold" style="font-size:11.6px">Windböen</text>
<text x="552.2" y="556.5" font-weight="bold" style="font-size:11.6px" text-anchor="end">km/h</text>
<text x="448.4" y="572">Ø 10 min.</text>
<text x="552.2" y="572" text-anchor="end">0.0</text>
<text x="454" y="588">15:50</text>
<text x="552.2" y="588" text-anchor="end">S-SO 17.7</text>
<text x="552.2" y="604" text-anchor="end">5.6</text>
<text x="454" y="620">60% N</text>
<text x="552.2" y="620" font-weight="bold" style="font-size:11.6px" text-anchor="end">0.0</text>
<text x="566.4" y="556.5" font-weight="bold" style="font-size:11.6px">Regen</text>
<text x="670.2" y="556.5" font-weight="bold" style="font-size:11.6px" text-anchor="end">l/m²</text>
<text x="566.4" y="572">18:55 h</text>
<text x="572" y="588">05:40</text>
<text x="670.2" y="588" text-anchor="end">0.2</text>
<text x="566.4" y="604">Gesamt:</text>
<text x="670.2" y="604" text-anchor="end">1.6</text>
<text x="566.4" y="620">1.6 l/m²</text>
<text x="670.2" y="620" font-weight="bold" style="font-size:11.6px" text-anchor="end">0.0</text>
<text x="684.4" y="556.5" font-weight="bold" style="font-size:11.6px">PMV 0:9</text>
<text x="684.4" y="572">WC 6.1 °C</text>
<text x="684.4" y="588">TP 5.5 °C</text>
<text x="684.4" y="604">-0.3hPa/3h</text>
<text x="684.4" y="620">-0.1hPa/1h</text>
</svg>
</body></html>
